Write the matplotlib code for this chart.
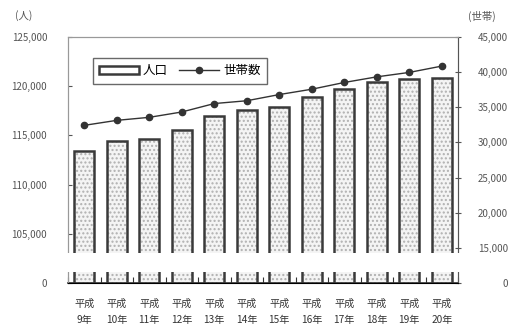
import numpy as np
import matplotlib
matplotlib.use("Agg")
import matplotlib.pyplot as plt
from matplotlib.patches import Rectangle
from matplotlib.ticker import FuncFormatter

plt.rcParams['font.family'] = ['Noto Sans CJK JP', 'DejaVu Sans']

# population and households by year
years = ["9年", "10年", "11年", "12年", "13年", "14年", "15年", "16年", "17年", "18年", "19年", "20年"]
population = [113450, 114430, 114600, 115550, 116970, 117580, 117920, 118900, 119680, 120450, 120730, 120800]
households = [32430, 33140, 33570, 34330, 35530, 35930, 36810, 37570, 38530, 39330, 39960, 40860]

left_ticks = [100000, 105000, 110000, 115000, 120000, 125000]
right_ticks = [10000, 15000, 20000, 25000, 30000, 35000, 40000, 45000]

fig = plt.figure(figsize=(5.12, 3.27), dpi=100)
ax = fig.add_axes([68/512, 1-283/327, 390/512, 246/327])
ax2 = ax.twinx()

x = np.arange(len(years))
# dotted fill, then the dark outline on top
ax.bar(x, population, width=0.62, color='#f4f4f4', edgecolor='#b0b0b0', hatch='....', linewidth=0, zorder=2)
bars = ax.bar(x, population, width=0.62, fill=False, edgecolor='#3a3a3a', linewidth=1.8, zorder=3, label='人口')

line, = ax2.plot(x, households, color='#333333', lw=1.0, marker='o', ms=4.5, label='世帯数', zorder=4)

ax.set_xlim(-0.5, len(years) - 0.5)
ax.set_ylim(100000, 125000)
ax2.set_ylim(10000, 45000)

# the broken axis: bottom value is shown as 0
fmt = lambda v, p: '0' if v in (100000, 10000) else f'{int(v):,}'
ax.set_yticks(left_ticks)
ax.yaxis.set_major_formatter(FuncFormatter(fmt))
ax2.set_yticks(right_ticks)
ax2.yaxis.set_major_formatter(FuncFormatter(fmt))

ax.tick_params(axis='y', direction='in', length=3, labelsize=7, colors='#555555', pad=15)
ax2.tick_params(axis='y', direction='inout', length=4, labelsize=7, colors='#555555', pad=34)
for t in ax2.get_yticklabels():
    t.set_horizontalalignment('right')

ax.set_xticks(np.arange(-0.5, len(years), 1), minor=False)
ax.set_xticklabels([])
ax.tick_params(axis='x', direction='in', length=4, color='#333333')
for i, yr in enumerate(years):
    ax.text(i, -0.065, '平成\n' + yr, transform=ax.get_xaxis_transform(), ha='center', va='top',
            fontsize=7.3, linespacing=1.75, color='#333333')

for sp in ['top', 'left', 'right']:
    ax.spines[sp].set_color('#999999')
    ax2.spines[sp].set_color('#999999')
ax2.spines['right'].set_color('#555555')
ax.spines['bottom'].set_color('#333333')
ax.spines['bottom'].set_linewidth(1.2)

fig.text(15/512, 1-16/327, '(人)', fontsize=7.5, color='#555555', va='center')
fig.text(468/512, 1-16/327, '(世帯)', fontsize=7.5, color='#555555', va='center')

leg = ax2.legend(handles=[bars, line], loc='upper left', bbox_to_anchor=(25/390, 1-21/246),
                 ncol=2, fontsize=9, frameon=True, fancybox=False, edgecolor='#444444',
                 handlelength=3.2, handletextpad=0.3, columnspacing=0.9, borderaxespad=0,
                 borderpad=0.5)
leg.get_frame().set_linewidth(1.0)

# white band across the plot for the axis break
fig.patches.append(Rectangle((57/512, 1-272/327), 1-57/512, 19/327, transform=fig.transFigure,
                             facecolor='white', edgecolor='none', zorder=5))

fig.savefig('out.png', dpi=100)
